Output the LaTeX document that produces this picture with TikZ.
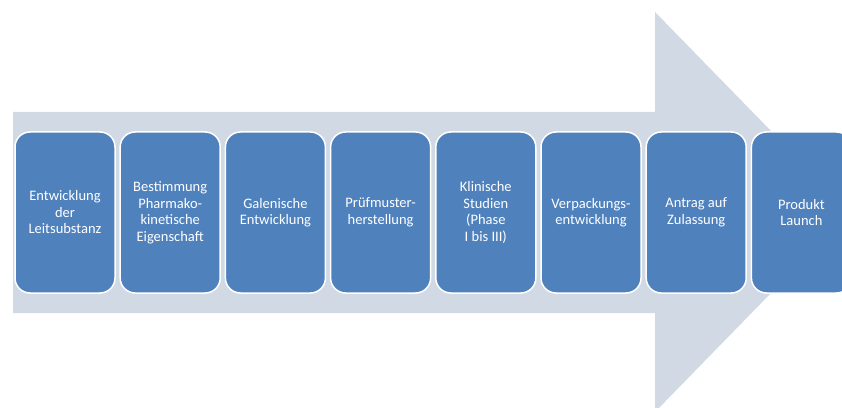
\documentclass[tikz,border=0pt]{standalone}
\usepackage{fontspec}
\setmainfont{Carlito}
\definecolor{pfeilgrau}{HTML}{D1D9E5}
\definecolor{stufenblau}{HTML}{4F81BD}
\tikzset{
    stufe/.style={draw=white,line width=1.5pt,fill=stufenblau,rounded corners=15pt,
        minimum width=100pt,minimum height=161pt,text=white,align=center,
        font=\fontsize{14.5}{16.5}\selectfont}
}
\begin{document}
\begin{tikzpicture}[x=1pt,y=1pt]
        \useasboundingbox (0,0) rectangle (842,407);
        \clip (0,0) rectangle (842,407);
        % grosser Pfeil im Hintergrund
        \draw[fill=pfeilgrau,draw=none] (13,94) -- (13,295) -- (655,295) -- (655,395)
            -- (850,195) -- (655,-5) -- (655,94) -- cycle;
        % Stufen
        \node[stufe] (leit)    at (65.0,194.5)  {Entwicklung\\der\\Leitsubstanz};
        \node[stufe] (pharma)  at (170.2,194.5) {Bestimmung\\Pharmako-\\kinetische\\Eigenschaft};
        \node[stufe] (galen)   at (275.4,194.5) {Galenische\\Entwicklung};
        \node[stufe] (muster)  at (380.6,194.5) {Prüfmuster-\\herstellung};
        \node[stufe] (klinik)  at (485.8,194.5) {Klinische\\Studien\\(Phase\\I bis III)};
        \node[stufe] (verpack) at (591.0,194.5) {Verpackungs-\\entwicklung};
        \node[stufe] (antrag)  at (696.2,194.5) {Antrag auf\\Zulassung};
        \node[stufe] (launch)  at (801.4,194.5) {Produkt\\Launch};
    \end{tikzpicture}
\end{document}
